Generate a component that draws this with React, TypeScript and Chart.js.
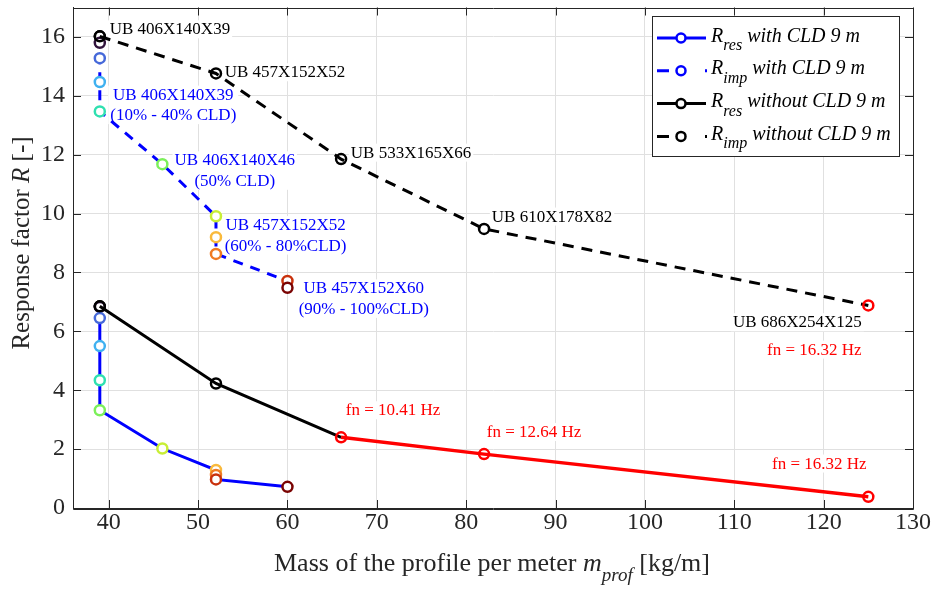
import React, { useEffect, useRef } from 'react';
import { Chart, registerables } from 'chart.js';

Chart.register(...registerables);

// ---------------- data ----------------
const xTicks = [40, 50, 60, 70, 80, 90, 100, 110, 120, 130];
const yTicks = [0, 2, 4, 6, 8, 10, 12, 14, 16];

// R_res with CLD 9 m (0% .. 100% CLD)
const resWithMass = [39, 39, 39, 39, 39, 39, 46, 52, 52, 52, 60];
const resWithR = [6.85, 6.83, 6.45, 5.5, 4.34, 3.32, 2.02, 1.29, 1.12, 0.97, 0.72];
// R_imp with CLD 9 m
const impWithMass = [39, 39, 39, 39, 39, 46, 52, 52, 52, 60, 60];
const impWithR = [16.02, 15.8, 15.28, 14.47, 13.47, 11.68, 9.91, 9.2, 8.63, 7.71, 7.48];
// marker colours for the CLD steps
const cldColors = ['#000000', '#30123b', '#4669d9', '#3fb1f0', '#2fe0b0', '#7cf05a', '#c8ee36', '#f9b93c', '#f07a22', '#c9320d', '#7a0403'];

// without CLD
const noCldMass = [39, 52, 66, 82, 125];
const resNoCld = [6.85, 4.23, 2.4, 1.83, 0.38];
const impNoCld = [16.02, 14.76, 11.85, 9.48, 6.88];
const resNoCldMarkerColors = ['#000000', '#000000', '#ff0000', '#ff0000', '#ff0000'];
const impNoCldMarkerColors = ['#000000', '#000000', '#000000', '#000000', '#ff0000'];
const blackSegmentCount = 3; // first three points of R_res without CLD drawn black, rest red

const legendLabels = [
  { sub: 'res', text: 'with CLD 9 m' },
  { sub: 'imp', text: 'with CLD 9 m' },
  { sub: 'res', text: 'without CLD 9 m' },
  { sub: 'imp', text: 'without CLD 9 m' },
];

// text annotations (data coordinates of the first baseline)
const blackLabels = [
  { x: 40.11, y: 16.09, text: 'UB 406X140X39' },
  { x: 52.98, y: 14.63, text: 'UB 457X152X52' },
  { x: 67.09, y: 11.9, text: 'UB 533X165X66' },
  { x: 82.87, y: 9.73, text: 'UB 610X178X82' },
  { x: 109.85, y: 6.14, text: 'UB 686X254X125' },
];
const redLabels = [
  { x: 113.66, y: 5.21, text: 'fn = 16.32 Hz' },
  { x: 66.53, y: 3.15, text: 'fn = 10.41 Hz' },
  { x: 82.31, y: 2.41, text: 'fn = 12.64 Hz' },
  { x: 114.22, y: 1.34, text: 'fn = 16.32 Hz' },
];
const blueLabels = [
  { x: 47.22, y: 13.87, lines: ['UB 406X140X39', '(10% - 40% CLD)'] },
  { x: 54.1, y: 11.64, lines: ['UB 406X140X46', '(50% CLD)'] },
  { x: 59.79, y: 9.44, lines: ['UB 457X152X52', '(60% - 80%CLD)'] },
  { x: 68.54, y: 7.29, lines: ['UB 457X152X60', '(90% - 100%CLD)'] },
];

// ---------------- styling ----------------
const FONT = "'Liberation Serif', 'Times New Roman', serif";
const AXIS = '#262626';
const GRID = '#e0e0e0';
const BLUE = '#0000ff';

const pts = (xs: number[], ys: number[]) => xs.map((x, i) => ({ x, y: ys[i] }));

function drawParts(ctx: CanvasRenderingContext2D, parts: any[], x: number, y: number, align: 'left' | 'center') {
  let total = 0;
  for (const p of parts) {
    ctx.font = `${p.italic ? 'italic ' : ''}${p.size}px ${FONT}`;
    p.w = ctx.measureText(p.text).width;
    total += p.w;
  }
  let cx = align === 'center' ? x - total / 2 : x;
  ctx.textAlign = 'left';
  ctx.textBaseline = 'alphabetic';
  for (const p of parts) {
    ctx.font = `${p.italic ? 'italic ' : ''}${p.size}px ${FONT}`;
    ctx.fillText(p.text, cx, y + (p.dy || 0));
    cx += p.w;
  }
}

const decorPlugin = {
  id: 'decor',
  beforeDatasetsDraw(chart: any) {
    const ctx: CanvasRenderingContext2D = chart.ctx;
    const xs = chart.scales.x;
    const ys = chart.scales.y;
    ctx.save();
    ctx.font = `17px ${FONT}`;
    ctx.textBaseline = 'alphabetic';
    const drawBox = (x0: number, y0: number, w: number, h: number) => {
      ctx.fillStyle = '#ffffff';
      ctx.fillRect(x0, y0, w, h);
    };
    for (const l of blackLabels) {
      const px = xs.getPixelForValue(l.x);
      const py = ys.getPixelForValue(l.y);
      const w = ctx.measureText(l.text).width;
      drawBox(px - 2, py - 14, w + 4, 18);
      ctx.fillStyle = '#000000';
      ctx.textAlign = 'left';
      ctx.fillText(l.text, px, py);
    }
    for (const l of redLabels) {
      const px = xs.getPixelForValue(l.x);
      const py = ys.getPixelForValue(l.y);
      const w = ctx.measureText(l.text).width;
      drawBox(px - 2, py - 14, w + 4, 18);
      ctx.fillStyle = '#ff0000';
      ctx.textAlign = 'left';
      ctx.fillText(l.text, px, py);
    }
    for (const l of blueLabels) {
      const px = xs.getPixelForValue(l.x);
      const py = ys.getPixelForValue(l.y);
      const w = Math.max(...l.lines.map((t) => ctx.measureText(t).width));
      drawBox(px - w / 2 - 2, py - 14, w + 4, 18 + 20.5 * (l.lines.length - 1));
      ctx.fillStyle = BLUE;
      ctx.textAlign = 'center';
      l.lines.forEach((t, i) => ctx.fillText(t, px, py + i * 20.5));
    }
    ctx.restore();
  },
  afterDatasetsDraw(chart: any) {
    const ctx: CanvasRenderingContext2D = chart.ctx;
    const xs = chart.scales.x;
    const ys = chart.scales.y;
    const { left, right, top, bottom } = chart.chartArea;
    ctx.save();

    // box + inside ticks
    ctx.strokeStyle = AXIS;
    ctx.lineWidth = 1;
    ctx.beginPath();
    ctx.rect(Math.round(left) + 0.5, Math.round(top) + 0.5, Math.round(right - left), Math.round(bottom - top));
    for (const v of xTicks) {
      const px = Math.round(xs.getPixelForValue(v)) + 0.5;
      ctx.moveTo(px, bottom);
      ctx.lineTo(px, bottom - 8);
      ctx.moveTo(px, top);
      ctx.lineTo(px, top + 8);
    }
    for (const v of yTicks) {
      const py = Math.round(ys.getPixelForValue(v)) + 0.5;
      ctx.moveTo(left, py);
      ctx.lineTo(left + 8, py);
      ctx.moveTo(right, py);
      ctx.lineTo(right - 8, py);
    }
    ctx.stroke();

    // legend
    const lx0 = 652, ly0 = 16, lx1 = 899, ly1 = 156;
    ctx.fillStyle = '#ffffff';
    ctx.fillRect(lx0, ly0, lx1 - lx0, ly1 - ly0);
    ctx.strokeStyle = AXIS;
    ctx.lineWidth = 1;
    ctx.strokeRect(lx0 + 0.5, ly0 + 0.5, lx1 - lx0, ly1 - ly0);
    legendLabels.forEach((item, i) => {
      const base = 41.5 + i * 32.8;
      const ly = base - 3.5;
      const color = i < 2 ? BLUE : '#000000';
      const dashed = i % 2 === 1;
      ctx.strokeStyle = color;
      ctx.lineWidth = 3;
      ctx.setLineDash([]);
      ctx.beginPath();
      if (dashed) {
        ctx.moveTo(657, ly);
        ctx.lineTo(669, ly);
        ctx.moveTo(705, ly);
        ctx.lineTo(707, ly);
      } else {
        ctx.moveTo(657, ly);
        ctx.lineTo(706, ly);
      }
      ctx.stroke();
      ctx.lineWidth = 2.5;
      ctx.fillStyle = '#ffffff';
      ctx.beginPath();
      ctx.arc(681, ly, 4.5, 0, Math.PI * 2);
      ctx.fill();
      ctx.stroke();
      ctx.fillStyle = '#000000';
      drawParts(ctx, [
        { text: 'R', italic: true, size: 20 },
        { text: item.sub, italic: true, size: 16, dy: 8.5 },
        { text: ' ' + item.text, italic: true, size: 20 },
      ], 711, base, 'left');
    });

    // axis titles
    ctx.fillStyle = AXIS;
    drawParts(ctx, [
      { text: 'Mass of the profile per meter ', size: 26 },
      { text: 'm', italic: true, size: 26 },
      { text: 'prof', italic: true, size: 19, dy: 10 },
      { text: ' [kg/m]', size: 26 },
    ], 492, 571, 'center');

    ctx.save();
    ctx.translate(29, 243);
    ctx.rotate(-Math.PI / 2);
    drawParts(ctx, [
      { text: 'Response factor ', size: 25 },
      { text: 'R', italic: true, size: 25 },
      { text: ' [-]', size: 25 },
    ], 0, 0, 'center');
    ctx.restore();

    ctx.restore();
  },
};

export default function App() {
  const ref = useRef<HTMLCanvasElement>(null);
  useEffect(() => {
    const canvas = ref.current!;
    const markerBase = {
      showLine: false,
      pointRadius: 5,
      pointBorderWidth: 2.5,
      pointHoverRadius: 5,
    };
    const chart = new Chart(canvas, {
      type: 'line',
      data: {
        datasets: [
          {
            ...markerBase,
            data: pts(noCldMass, resNoCld),
            pointBorderColor: resNoCldMarkerColors,
            pointBackgroundColor: 'rgba(0,0,0,0)',
            order: 1,
          },
          {
            ...markerBase,
            data: pts(noCldMass, impNoCld),
            pointBorderColor: impNoCldMarkerColors,
            pointBackgroundColor: 'rgba(0,0,0,0)',
            order: 1,
          },
          {
            data: pts(noCldMass.slice(blackSegmentCount - 1), resNoCld.slice(blackSegmentCount - 1)),
            borderColor: '#ff0000',
            borderWidth: 3.5,
            pointRadius: 0,
            order: 2,
          },
          {
            data: pts(noCldMass.slice(0, blackSegmentCount), resNoCld.slice(0, blackSegmentCount)),
            borderColor: '#000000',
            borderWidth: 3,
            pointRadius: 0,
            order: 3,
          },
          {
            data: pts(noCldMass, impNoCld),
            borderColor: '#000000',
            borderWidth: 3,
            borderDash: [11, 8],
            pointRadius: 0,
            order: 3,
          },
          {
            ...markerBase,
            data: pts(resWithMass, resWithR),
            pointBorderColor: cldColors,
            pointBackgroundColor: '#ffffff',
            order: 4,
          },
          {
            ...markerBase,
            data: pts(impWithMass, impWithR),
            pointBorderColor: cldColors,
            pointBackgroundColor: '#ffffff',
            order: 4,
          },
          {
            data: pts(resWithMass, resWithR),
            borderColor: BLUE,
            borderWidth: 3,
            pointRadius: 0,
            order: 5,
          },
          {
            data: pts(impWithMass, impWithR),
            borderColor: BLUE,
            borderWidth: 3,
            borderDash: [10, 8],
            pointRadius: 0,
            order: 5,
          },
        ] as any,
      },
      options: {
        animation: false,
        responsive: false,
        events: [],
        layout: { padding: { top: 6, right: 22, left: 0, bottom: 0 } },
        plugins: { legend: { display: false }, tooltip: { enabled: false } },
        elements: { line: { tension: 0 } },
        scales: {
          x: {
            type: 'linear',
            min: 36,
            max: 130,
            afterBuildTicks: (s: any) => {
              s.ticks = xTicks.map((v) => ({ value: v }));
            },
            afterFit: (s: any) => {
              s.height = 82;
              s.paddingLeft = 0;
              s.paddingRight = 0;
            },
            grid: { color: GRID, drawTicks: false, lineWidth: 1 },
            border: { display: true, color: AXIS, width: 1 },
            ticks: { padding: 0, color: AXIS, font: { family: FONT, size: 24 }, maxRotation: 0 },
          },
          y: {
            type: 'linear',
            min: 0,
            max: 17,
            afterBuildTicks: (s: any) => {
              s.ticks = yTicks.map((v) => ({ value: v }));
            },
            afterFit: (s: any) => {
              s.width = 73;
              s.paddingTop = 0;
              s.paddingBottom = 0;
            },
            grid: { color: GRID, drawTicks: false, lineWidth: 1 },
            border: { display: true, color: AXIS, width: 1 },
            ticks: { padding: 8, color: AXIS, font: { family: FONT, size: 24 } },
          },
        },
      } as any,
      plugins: [decorPlugin],
    });
    return () => chart.destroy();
  }, []);
  return (
    <div style={{ position: 'fixed', left: 0, top: 0, width: 935, height: 590, background: '#ffffff' }}>
      <canvas ref={ref} width={935} height={590} style={{ display: 'block', width: 935, height: 590 }} />
    </div>
  );
}
